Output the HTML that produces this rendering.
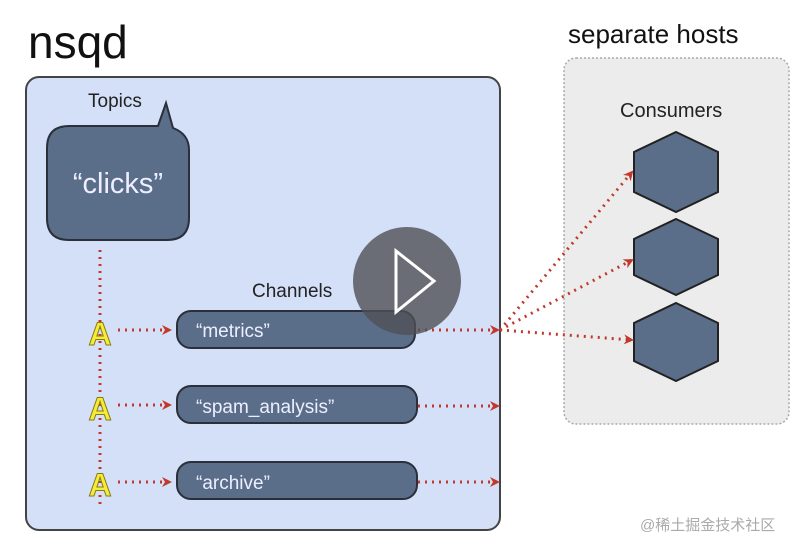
<!DOCTYPE html>
<html><head><meta charset="utf-8"><style>html,body{margin:0;padding:0;background:#fff}svg{display:block}</style></head>
<body>
<svg width="792" height="540" viewBox="0 0 792 540" xmlns="http://www.w3.org/2000/svg" font-family="Liberation Sans, sans-serif">
<defs>
<marker id="ar" markerWidth="10" markerHeight="10" refX="8" refY="5" orient="auto" markerUnits="userSpaceOnUse"><path d="M0,0 L10,5 L0,10 L3,5 Z" fill="#c0392b"/></marker>
</defs>
<text x="28" y="58" font-size="46" fill="#111">nsqd</text>
<rect x="26" y="77" width="474" height="453" rx="13" fill="#d4e0f8" stroke="#444" stroke-width="2"/>
<text x="88" y="107" font-size="19" fill="#222">Topics</text>
<path d="M69,126 H158 L166,103 L173,128 Q189,134 189,150 V218 Q189,240 167,240 H69 Q47,240 47,218 V148 Q47,126 69,126 Z" fill="#5a6e8a" stroke="#2a2f3a" stroke-width="2"/>
<text x="118" y="193" font-size="29" fill="#eef" text-anchor="middle">“clicks”</text>
<text x="568" y="43" font-size="26" fill="#111">separate hosts</text>
<rect x="564" y="58" width="225" height="366" rx="12" fill="#ececec" stroke="#aaa" stroke-width="1.5" stroke-dasharray="2 2"/>
<text x="620" y="117" font-size="20" fill="#222">Consumers</text>
<g fill="#5a6e8a" stroke="#222" stroke-width="2">
<polygon points="676,132 718,152 718,192 676,212 634,192 634,152"/>
<polygon points="676,219 718,239 718,275 676,295 634,275 634,239"/>
<polygon points="676,303 718,323 718,361 676,381 634,361 634,323"/>
</g>
<g stroke="#c0392b" stroke-width="3" stroke-dasharray="2 5" fill="none">
<line x1="100" y1="250" x2="100" y2="505"/>
<line x1="118" y1="330" x2="170" y2="330" marker-end="url(#ar)"/>
<line x1="118" y1="405" x2="170" y2="405" marker-end="url(#ar)"/>
<line x1="118" y1="482" x2="170" y2="482" marker-end="url(#ar)"/>
<line x1="418" y1="330" x2="498" y2="330" marker-end="url(#ar)"/>
<line x1="418" y1="406" x2="498" y2="406" marker-end="url(#ar)"/>
<line x1="418" y1="482" x2="498" y2="482" marker-end="url(#ar)"/>
<line x1="500" y1="330" x2="632" y2="172" marker-end="url(#ar)"/>
<line x1="500" y1="330" x2="632" y2="260" marker-end="url(#ar)"/>
<line x1="500" y1="330" x2="632" y2="340" marker-end="url(#ar)"/>
</g>
<g font-size="32" font-weight="bold" fill="#f4ec3a" stroke="#8a7a10" stroke-width="1" text-anchor="middle">
<text x="100" y="345">A</text><text x="100" y="420">A</text><text x="100" y="496">A</text>
</g>
<text x="252" y="297" font-size="19" fill="#222">Channels</text>
<g fill="#5a6e8a" stroke="#2a2f3a" stroke-width="2">
<rect x="177" y="311" width="238" height="37" rx="14"/>
<rect x="177" y="386" width="240" height="37" rx="14"/>
<rect x="177" y="462" width="240" height="37" rx="14"/>
</g>
<g font-size="19" fill="#eef">
<text x="196" y="337">“metrics”</text>
<text x="196" y="413">“spam_analysis”</text>
<text x="196" y="489">“archive”</text>
</g>
<circle cx="407" cy="281" r="54" fill="rgba(80,80,85,0.8)"/>
<polygon points="396,251 396,312 434,281" fill="none" stroke="#fff" stroke-width="3"/>
<text x="640" y="530" font-size="15" fill="#aaa" font-family="Liberation Sans, Noto Sans CJK SC, sans-serif">@稀土掘金技术社区</text>
</svg>
</body></html>
